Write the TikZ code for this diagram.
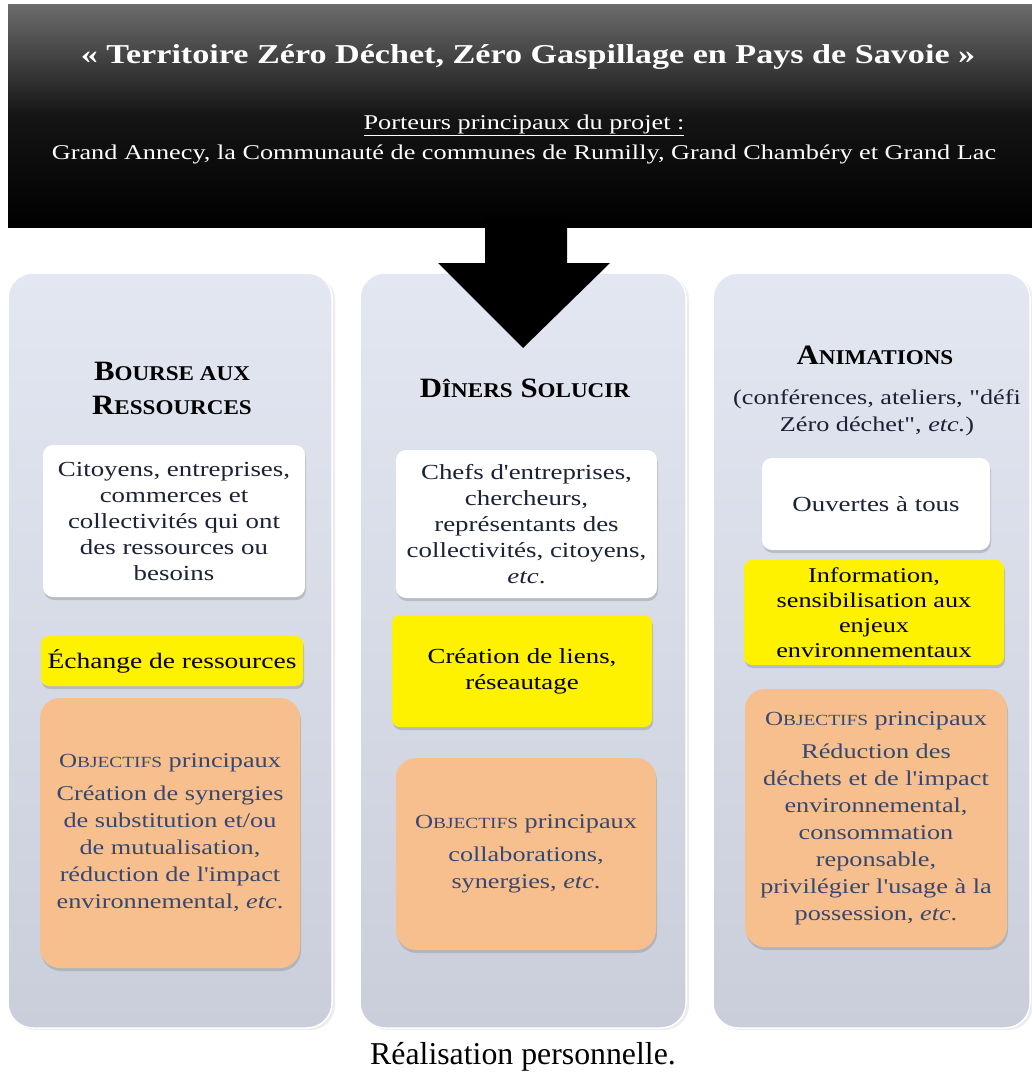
\documentclass[tikz,border=0pt]{standalone}
\usepackage{fontspec}
\setmainfont{Liberation Serif}[Ligatures=TeXOff,FakeStretch=1.25]
\newfontfamily\capfont{Liberation Serif}[Ligatures=TeXOff]
\newfontfamily\headfont{Liberation Serif}[Ligatures=TeXOff,FakeStretch=1.1]
\usetikzlibrary{shadows,positioning}
\definecolor{panelTop}{HTML}{E3E7F2}
\definecolor{panelBot}{HTML}{C9CEDA}
\definecolor{boxInk}{HTML}{1C2236}
\definecolor{objInk}{HTML}{36486F}
\definecolor{peach}{HTML}{F8BF8E}
% fake small capitals: big letter, rest in smaller capitals
\newcommand{\capword}[4]{{\fontsize{#3}{#3}\selectfont #1}{\fontsize{#4}{#4}\selectfont #2}}
\tikzset{banner/.style={
            top color=black!58,
            bottom color=black,
            middle color=black!92,
            minimum width=1024pt,
            minimum height=223pt,
            inner sep=0pt
        },
        panel/.style={
            rounded corners=25pt,
            top color=panelTop,
            bottom color=panelBot,
            draw=white,
            line width=1.5pt,
            drop shadow={opacity=0.15,shadow xshift=3pt,shadow yshift=-2pt},
            minimum height=755pt,
            inner sep=0pt
        },
        coltitle/.style={
            font=\headfont\bfseries\fontsize{28}{34}\selectfont,
            align=center,
            text=black
        },
        whitebox/.style={
            rounded corners=10pt,
            fill=white,
            drop shadow={opacity=0.35,shadow xshift=1pt,shadow yshift=-3pt},
            text=boxInk,
            align=center,
            inner sep=0pt,
            font=\fontsize{21.5}{26}\selectfont
        },
        yellowbox/.style={
            rounded corners=8pt,
            fill=yellow,
            drop shadow={opacity=0.35,shadow xshift=1pt,shadow yshift=-3pt},
            text=black,
            align=center,
            inner sep=0pt,
            font=\fontsize{21.5}{26}\selectfont
        },
        objbox/.style={
            rounded corners=20pt,
            fill=peach,
            drop shadow={opacity=0.35,shadow xshift=1pt,shadow yshift=-3pt},
            text=objInk,
            align=center,
            inner sep=0pt,
            font=\fontsize{21}{27}\selectfont
        }
    }
\begin{document}
\begin{tikzpicture}[x=1pt,y=-1pt]
        \useasboundingbox (0,0) rectangle (1032,1075);
        \fill[white] (0,0) rectangle (1032,1075);
        % header
        \node[banner] (banner) at (520,116.5) {};
        \node[text=white,font=\bfseries\fontsize{27.3}{32}\selectfont] (title) at (528,57) {« Territoire Zéro Déchet, Zéro Gaspillage en Pays de Savoie »};
        \node[text=white,align=center,font=\fontsize{21}{30}\selectfont] (porteurs) at (524,139) {\underline{Porteurs principaux du projet :}\\Grand Annecy, la Communauté de communes de Rumilly, Grand Chambéry et Grand Lac};
        % columns
        \node[panel,minimum width=324pt] (bourse) at (170,650.5) {};
        \node[panel,minimum width=326pt] (diners) at (523,650.5) {};
        \node[panel,minimum width=317pt] (anim) at (871.5,650.5) {};
        \fill[black] (485,220) -- (485,263) -- (438,263) -- (523,348) -- (610,263) -- (567,263) -- (567,220) -- cycle;
        % bourse aux ressources
        \node[coltitle] (boursetitle) at (172,388) {\capword{B}{OURSE AUX}{28}{21}\\\capword{R}{ESSOURCES}{28}{21}};
        \node[whitebox,minimum width=262pt,minimum height=152pt] (boursepublic) at (174,521) {Citoyens, entreprises,\\commerces et\\collectivités qui ont\\des ressources ou\\besoins};
        \node[yellowbox,font=\fontsize{22}{26}\selectfont,minimum width=262pt,minimum height=50pt] (boursedo) at (172,661) {Échange de ressources};
        \node[objbox,minimum width=260pt,minimum height=270pt] (bourseobj) at (170,833) {\capword{O}{BJECTIFS}{20}{15.5} principaux\\[6pt]Création de synergies\\de substitution et/ou\\de mutualisation,\\réduction de l'impact\\environnemental, \textit{etc}.};
        % diners solucir
        \node[coltitle] (dinerstitle) at (525,388) {\capword{D}{ÎNERS}{28}{21} \capword{S}{OLUCIR}{28}{21}};
        \node[whitebox,minimum width=261pt,minimum height=148pt] (dinerspublic) at (526.5,524) {Chefs d'entreprises,\\chercheurs,\\représentants des\\collectivités, citoyens,\\\textit{etc}.};
        \node[yellowbox,minimum width=260pt,minimum height=112pt] (dinersdo) at (522,671) {Création de liens,\\réseautage};
        \node[objbox,minimum width=260pt,minimum height=192pt] (dinersobj) at (526,854) {\capword{O}{BJECTIFS}{20}{15.5} principaux\\[6pt]collaborations,\\synergies, \textit{etc}.};
        % animations
        \node[coltitle] (animtitle) at (875,355) {\capword{A}{NIMATIONS}{28}{21}};
        \node[align=center,text=boxInk,font=\fontsize{21}{27}\selectfont] (animlist) at (877,413) {(conférences, ateliers, "défi\\Zéro déchet", \textit{etc.})};
        \node[whitebox,minimum width=228pt,minimum height=92pt] (animpublic) at (876,504) {Ouvertes à tous};
        \node[yellowbox,font=\fontsize{21}{25}\selectfont,minimum width=260pt,minimum height=105pt] (animdo) at (874,612.5) {Information,\\sensibilisation aux\\enjeux\\environnementaux};
        \node[objbox,minimum width=262pt,minimum height=258pt] (animobj) at (876,818) {\capword{O}{BJECTIFS}{20}{15.5} principaux\\[6pt]Réduction des\\déchets et de l'impact\\environnemental,\\consommation\\reponsable,\\privilégier l'usage à la\\possession, \textit{etc}.};
        % source
        \node[font=\capfont\fontsize{31.8}{34}\selectfont] (source) at (523,1057) {Réalisation personnelle.};
    \end{tikzpicture}
\end{document}
